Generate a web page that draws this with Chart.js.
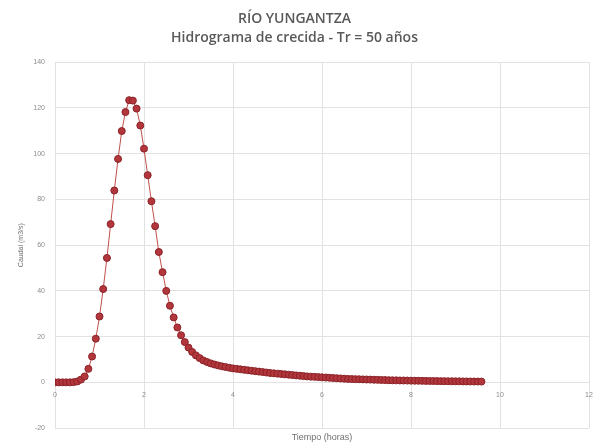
<!DOCTYPE html>
<html>
<head>
<meta charset="utf-8">
<script src="https://cdn.jsdelivr.net/npm/chart.js@4/dist/chart.umd.min.js"></script>
<style>
html,body{margin:0;padding:0;background:#fff;}
#wrap{width:595px;height:447px;position:relative;}
</style>
</head>
<body>
<div id="wrap"><canvas id="c" width="595" height="447"></canvas></div>
<script>
const chartTitle = ["RÍO YUNGANTZA", "Hidrograma de crecida - Tr = 50 años"];
const xAxisTitle = "Tiempo (horas)";
const yAxisTitle = "Caudal (m3/s)";

// time in hours (5-minute steps)
const timeHours = [
  0, 0.083, 0.167, 0.25, 0.333, 0.417, 0.5, 0.583, 0.667, 0.75, 0.833, 0.917,
  1, 1.083, 1.167, 1.25, 1.333, 1.417, 1.5, 1.583, 1.667, 1.75, 1.833, 1.917,
  2, 2.083, 2.167, 2.25, 2.333, 2.417, 2.5, 2.583, 2.667, 2.75, 2.833, 2.917,
  3, 3.083, 3.167, 3.25, 3.333, 3.417, 3.5, 3.583, 3.667, 3.75, 3.833, 3.917,
  4, 4.083, 4.167, 4.25, 4.333, 4.417, 4.5, 4.583, 4.667, 4.75, 4.833, 4.917,
  5, 5.083, 5.167, 5.25, 5.333, 5.417, 5.5, 5.583, 5.667, 5.75, 5.833, 5.917,
  6, 6.083, 6.167, 6.25, 6.333, 6.417, 6.5, 6.583, 6.667, 6.75, 6.833, 6.917,
  7, 7.083, 7.167, 7.25, 7.333, 7.417, 7.5, 7.583, 7.667, 7.75, 7.833, 7.917,
  8, 8.083, 8.167, 8.25, 8.333, 8.417, 8.5, 8.583, 8.667, 8.75, 8.833, 8.917,
  9, 9.083, 9.167, 9.25, 9.333, 9.417, 9.5, 9.583
];

// discharge in m3/s
const discharge = [
  0, 0, 0, 0, 0, 0.1, 0.4, 1.2, 2.6, 5.9, 11.3, 19.1,
  28.8, 40.8, 54.4, 69.2, 83.9, 97.7, 109.9, 118.2, 123.4, 123.2, 119.7, 112.3,
  102.2, 90.6, 79.2, 68.3, 57.0, 48.2, 40.0, 33.5, 28.4, 24.0, 20.6, 17.6,
  15.2, 13.3, 11.8, 10.6, 9.6, 8.9, 8.3, 7.8, 7.4, 7.0, 6.7, 6.4,
  6.1, 5.9, 5.7, 5.5, 5.3, 5.1, 4.9, 4.7, 4.5, 4.3, 4.1, 3.95,
  3.8, 3.65, 3.5, 3.35, 3.2, 3.05, 2.9, 2.75, 2.6, 2.5, 2.4, 2.3,
  2.2, 2.1, 2.0, 1.9, 1.8, 1.7, 1.6, 1.5, 1.45, 1.4, 1.35, 1.3,
  1.25, 1.2, 1.15, 1.1, 1.05, 1.0, 0.95, 0.9, 0.87, 0.84, 0.81, 0.78,
  0.75, 0.72, 0.69, 0.66, 0.63, 0.6, 0.58, 0.56, 0.54, 0.52, 0.5, 0.48,
  0.46, 0.44, 0.42, 0.4, 0.38, 0.36, 0.35, 0.34
];

const xTicks = [0, 2, 4, 6, 8, 10, 12];
const yTicks = [-20, 0, 20, 40, 60, 80, 100, 120, 140];

const points = timeHours.map((t, i) => ({x: t, y: discharge[i]}));

new Chart(document.getElementById('c'), {
  type: 'line',
  data: {
    datasets: [{
      data: points,
      borderColor: '#c0504d',
      borderWidth: 1,
      backgroundColor: '#b2363b',
      pointBackgroundColor: '#b2363b',
      pointBorderColor: '#8a2328',
      pointBorderWidth: 1,
      pointRadius: 3.5,
      tension: 0,
      fill: false
    }]
  },
  options: {
    responsive: false,
    animation: false,
    events: [],
    layout: {padding: {left: 0, right: 6, top: 0, bottom: 0}},
    plugins: {
      legend: {display: false},
      tooltip: {enabled: false},
      title: {
        display: true,
        text: chartTitle,
        color: '#595959',
        font: {family: 'Open Sans', size: 14, weight: '600', lineHeight: 1.4},
        padding: {top: 9, bottom: 14}
      },
      subtitle: {
        display: true,
        position: 'bottom',
        fullSize: false,
        text: xAxisTitle,
        color: '#6f6f6f',
        font: {family: 'Liberation Sans', size: 9, lineHeight: 1.1},
        padding: {top: 4, bottom: 5}
      }
    },
    scales: {
      x: {
        type: 'linear',
        position: {y: 0},
        min: 0,
        max: 12,
        afterBuildTicks: (s) => { s.ticks = xTicks.map(v => ({value: v})); },
        ticks: {
          color: '#8c8c8c',
          font: {family: 'Liberation Sans', size: 7},
          padding: 0,
          maxRotation: 0
        },
        grid: {color: '#e2e2e2', lineWidth: 1, drawTicks: true, tickLength: 8, tickColor: 'rgba(0,0,0,0)'},
        border: {display: false}
      },
      y: {
        type: 'linear',
        min: -20,
        max: 140,
        afterBuildTicks: (s) => { s.ticks = yTicks.map(v => ({value: v})); },
        afterFit: (s) => { s.width = 55; },
        ticks: {
          color: '#8c8c8c',
          font: {family: 'Liberation Sans', size: 7},
          padding: 10
        },
        title: {
          display: true,
          text: yAxisTitle,
          color: '#6f6f6f',
          font: {family: 'Liberation Sans', size: 7},
          padding: {top: 17, bottom: 4}
        },
        grid: {color: '#e2e2e2', lineWidth: 1, drawTicks: false},
        border: {display: false}
      }
    }
  }
});
</script>
</body>
</html>
